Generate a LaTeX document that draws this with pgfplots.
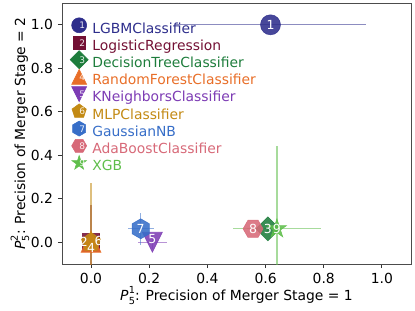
\documentclass[border=0pt]{standalone}
\usepackage{fontspec}
\setmainfont{DejaVu Sans}
\usepackage{pgfplots}
\pgfplotsset{compat=1.18}
\definecolor{c1}{RGB}{46,46,140}
\definecolor{c2}{RGB}{115,16,52}
\definecolor{c3}{RGB}{30,125,60}
\definecolor{c4}{RGB}{232,110,40}
\definecolor{c5}{RGB}{125,60,180}
\definecolor{c6}{RGB}{195,138,20}
\definecolor{c7}{RGB}{55,110,200}
\definecolor{c8}{RGB}{215,105,120}
\definecolor{c9}{RGB}{95,190,75}
\pgfdeclareplotmark{msq}{\pgfpathrectangle{\pgfqpoint{-0.85\pgfplotmarksize}{-0.85\pgfplotmarksize}}{\pgfqpoint{1.7\pgfplotmarksize}{1.7\pgfplotmarksize}}\pgfusepathqfillstroke}
\pgfdeclareplotmark{mdia}{\pgfpathmoveto{\pgfqpoint{0pt}{1.2\pgfplotmarksize}}\pgfpathlineto{\pgfqpoint{1.2\pgfplotmarksize}{0pt}}\pgfpathlineto{\pgfqpoint{0pt}{-1.2\pgfplotmarksize}}\pgfpathlineto{\pgfqpoint{-1.2\pgfplotmarksize}{0pt}}\pgfpathclose\pgfusepathqfillstroke}
\pgfdeclareplotmark{mtriu}{\pgfpathmoveto{\pgfqpoint{0pt}{\pgfplotmarksize}}\pgfpathlineto{\pgfqpoint{\pgfplotmarksize}{-\pgfplotmarksize}}\pgfpathlineto{\pgfqpoint{-\pgfplotmarksize}{-\pgfplotmarksize}}\pgfpathclose\pgfusepathqfillstroke}
\pgfdeclareplotmark{mtrid}{\pgfpathmoveto{\pgfqpoint{0pt}{-\pgfplotmarksize}}\pgfpathlineto{\pgfqpoint{\pgfplotmarksize}{\pgfplotmarksize}}\pgfpathlineto{\pgfqpoint{-\pgfplotmarksize}{\pgfplotmarksize}}\pgfpathclose\pgfusepathqfillstroke}
\pgfdeclareplotmark{mpent}{\pgfpathmoveto{\pgfpointpolar{90}{\pgfplotmarksize}}\pgfpathlineto{\pgfpointpolar{162}{\pgfplotmarksize}}\pgfpathlineto{\pgfpointpolar{234}{\pgfplotmarksize}}\pgfpathlineto{\pgfpointpolar{306}{\pgfplotmarksize}}\pgfpathlineto{\pgfpointpolar{18}{\pgfplotmarksize}}\pgfpathclose\pgfusepathqfillstroke}
\pgfdeclareplotmark{mhexv}{\pgfpathmoveto{\pgfpointpolar{90}{\pgfplotmarksize}}\pgfpathlineto{\pgfpointpolar{150}{\pgfplotmarksize}}\pgfpathlineto{\pgfpointpolar{210}{\pgfplotmarksize}}\pgfpathlineto{\pgfpointpolar{270}{\pgfplotmarksize}}\pgfpathlineto{\pgfpointpolar{330}{\pgfplotmarksize}}\pgfpathlineto{\pgfpointpolar{30}{\pgfplotmarksize}}\pgfpathclose\pgfusepathqfillstroke}
\pgfdeclareplotmark{mhexh}{\pgfpathmoveto{\pgfpointpolar{0}{\pgfplotmarksize}}\pgfpathlineto{\pgfpointpolar{60}{\pgfplotmarksize}}\pgfpathlineto{\pgfpointpolar{120}{\pgfplotmarksize}}\pgfpathlineto{\pgfpointpolar{180}{\pgfplotmarksize}}\pgfpathlineto{\pgfpointpolar{240}{\pgfplotmarksize}}\pgfpathlineto{\pgfpointpolar{300}{\pgfplotmarksize}}\pgfpathclose\pgfusepathqfillstroke}
\pgfdeclareplotmark{mstar}{\pgfpathmoveto{\pgfpointpolar{90}{\pgfplotmarksize}}\pgfpathlineto{\pgfpointpolar{126}{0.382\pgfplotmarksize}}\pgfpathlineto{\pgfpointpolar{162}{\pgfplotmarksize}}\pgfpathlineto{\pgfpointpolar{198}{0.382\pgfplotmarksize}}\pgfpathlineto{\pgfpointpolar{234}{\pgfplotmarksize}}\pgfpathlineto{\pgfpointpolar{270}{0.382\pgfplotmarksize}}\pgfpathlineto{\pgfpointpolar{306}{\pgfplotmarksize}}\pgfpathlineto{\pgfpointpolar{342}{0.382\pgfplotmarksize}}\pgfpathlineto{\pgfpointpolar{18}{\pgfplotmarksize}}\pgfpathlineto{\pgfpointpolar{54}{0.382\pgfplotmarksize}}\pgfpathclose\pgfusepathqfillstroke}
\newcommand\Pst[1]{\textit{P}\kern0.3pt\makebox[0pt][l]{\raisebox{0.95ex}{\fontsize{7}{7}\selectfont #1}}\raisebox{-0.55ex}{\fontsize{7}{7}\selectfont 5}}
\pgfplotsset{
  numleg/.style={legend image code/.code={%
    \path[draw=none,fill=none] (0pt,-1pt) rectangle (14.2pt,1pt);
    \path[overlay,opacity=1,mark size=5.4pt,line width=0.4pt] plot[only marks] coordinates {(6pt,3pt)};
    \node[overlay,text=white,font=\fontsize{6.5}{6.5}\selectfont,inner sep=0pt] at (6pt,3pt) {#1};}},
  ser/.style={only marks, color=#1, mark options={solid,fill=#1,draw=#1,line width=0.4pt}, mark size=7.2pt, opacity=0.88,
    error bars/.cd, x dir=both, x explicit, y dir=both, y explicit, error mark=none,
    error bar style={solid, line width=1pt, color=#1, opacity=0.55}, /pgfplots/.cd},
}
\begin{document}
\begin{tikzpicture}
\begin{axis}[name=ax,
  scale only axis, width=251.3pt, height=187.9pt,
  xmin=-0.1, xmax=1.1, ymin=-0.1, ymax=1.1,
  xtick={0,0.2,0.4,0.6,0.8,1.0}, ytick={0,0.2,0.4,0.6,0.8,1.0},
  xtick pos=bottom, ytick pos=left, tick align=outside, major tick length=3pt,
  axis line style={black!70}, every tick/.style={black!80, line width=0.6pt},
  tick label style={font=\fontsize{10}{12}\selectfont},
  /pgf/number format/.cd, fixed, fixed zerofill, precision=1, assume math mode=true, /pgfplots/.cd,
  every axis x label/.style={at={([yshift=-22.8pt]axis description cs:0.5,0)}, anchor=center},
  every axis y label/.style={at={([xshift=-30.2pt]axis description cs:0,0.5)}, rotate=90, anchor=center},
  xlabel={\Pst{1}: Precision of Merger Stage = 1},
  ylabel={\Pst{2}: Precision of Merger Stage = 2},
  label style={font=\fontsize{10}{12}\selectfont},
  legend style={draw=none, fill=none, at={(axis description cs:0,1)}, anchor=north west,
    xshift=6.2pt, yshift=-12.6pt, inner sep=0pt, row sep=0pt, column sep=0pt,
    nodes={inner sep=1.3pt, text height=7.5pt, text depth=2.3pt, font=\fontsize{10}{12}\selectfont}},
  legend cell align=left,
]
\addplot[ser=c1, mark=*, numleg=1] coordinates {(0.617,1.0) +- (0.33,0.0)};
\addlegendentry{\textcolor{c1}{LGBMClassifier}}
\addplot[ser=c2, mark=msq, numleg=2] coordinates {(0,0) +- (0.0,0.172)};
\addlegendentry{\textcolor{c2}{LogisticRegression}}
\addplot[ser=c3, mark=mdia, numleg=3] coordinates {(0.608,0.062) +- (0.01,0.01)};
\addlegendentry{\textcolor{c3}{DecisionTreeClassifier}}
\addplot[ser=c4, mark=mtriu, numleg=4] coordinates {(0,0) +- (0.0,0.05)};
\addlegendentry{\textcolor{c4}{RandomForestClassifier}}
\addplot[ser=c5, mark=mtrid, numleg=5] coordinates {(0.211,0.0) +- (0.051,0.03)};
\addlegendentry{\textcolor{c5}{KNeighborsClassifier}}
\addplot[ser=c6, mark=mpent, numleg=6] coordinates {(0,0) +- (0.0,0.273)};
\addlegendentry{\textcolor{c6}{MLPClassifier}}
\addplot[ser=c7, mark=mhexv, numleg=7] coordinates {(0.171,0.062) +- (0.045,0.073)};
\addlegendentry{\textcolor{c7}{GaussianNB}}
\addplot[ser=c8, mark=mhexh, numleg=8] coordinates {(0.557,0.062) +- (0.02,0.01)};
\addlegendentry{\textcolor{c8}{AdaBoostClassifier}}
\addplot[ser=c9, mark=mstar, numleg=9] coordinates {(0.639,0.062) +- (0.15,0.38)};
\addlegendentry{\textcolor{c9}{XGB}}
\addplot[forget plot, only marks, mark=none, nodes near coords, point meta=explicit symbolic,
  nodes near coords style={anchor=center, text=white, font=\fontsize{9}{9}\selectfont, inner sep=0pt}]
  table[meta=lab] {
x y lab
0.617 1.0 1
-0.025 0.004 2
0.608 0.062 3
0 -0.026 4
0.211 0.015 5
0.026 0.004 6
0.170 0.062 7
0.557 0.062 8
0.639 0.062 9
};
\end{axis}
\pgfresetboundingbox
\path ([shift={(-44.6pt,-33.8pt)}]ax.south west) rectangle ([shift={(2.9pt,2.2pt)}]ax.north east);
\end{tikzpicture}
\end{document}
